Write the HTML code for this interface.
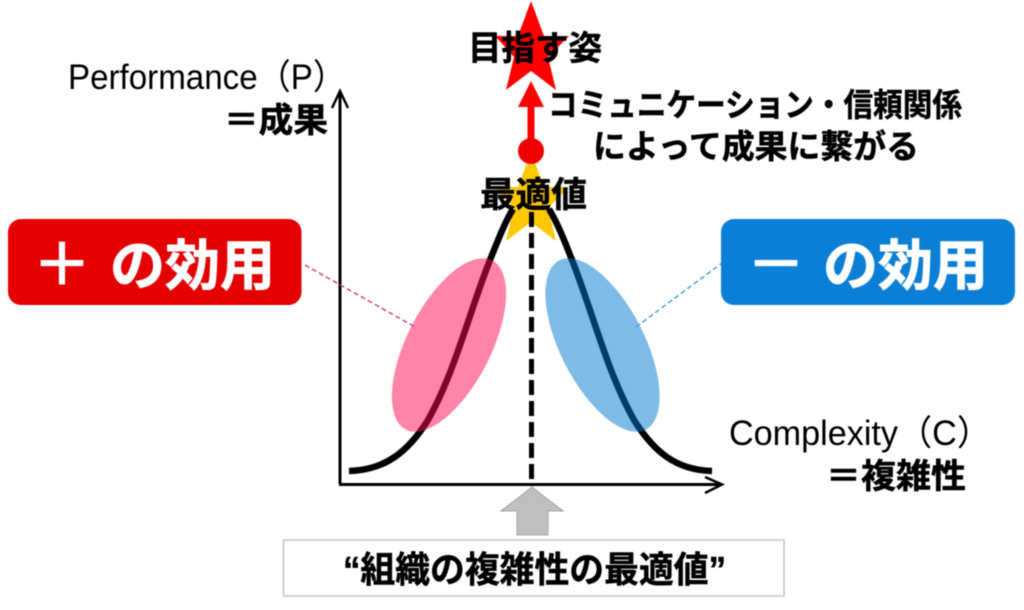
<!DOCTYPE html>
<html lang="ja">
<head>
<meta charset="utf-8">
<title>組織の複雑性の最適値</title>
<style>
html,body{margin:0;padding:0;background:#fff;width:1024px;height:610px;overflow:hidden}
svg{display:block;filter:blur(.55px)}
text{font-family:"Liberation Sans","Noto Sans CJK JP",sans-serif;fill:#000}
.b{font-weight:700;stroke:#000;stroke-width:.5px}
.w{fill:#fff;stroke:#fff;stroke-width:.9px}
.s{font-weight:700;fill:#fff}
</style>
</head>
<body>
<svg width="1024" height="610" viewBox="0 0 1024 610" xmlns="http://www.w3.org/2000/svg">
<rect width="1024" height="610" fill="#fff"/>

<!-- stars -->
<polygon points="531,1 544,36 569,36 548,57 556,90 531,71 506,90 514,57 495,36 518,36" fill="#ff0000"/>
<polygon points="531,152 544,187 569,187 548,208 556,241 531,222 506,241 514,208 495,187 518,187" fill="#ffc800"/>

<!-- red arrow and dot -->
<rect x="527.500" y="104" width="7" height="40" fill="#ff0000"/>
<polygon points="531,81 544,107 518,107" fill="#ff0000"/>
<circle cx="531" cy="151" r="13" fill="#f00000"/>

<!-- axes -->
<path d="M340 484V93" stroke="#000" stroke-width="3" fill="none"/>
<path d="M332 108L340 91L348 108" stroke="#000" stroke-width="2.500" fill="none"/>
<path d="M339 484.500H721" stroke="#000" stroke-width="3" fill="none"/>
<path d="M705 477L722 484.500L705 493" stroke="#000" stroke-width="2.500" fill="none"/>

<!-- bell curve -->
<path d="M349 471C385 470 408 452 428 420C455 372 470 310 490 260C498 240 505 222 513 209" stroke="#000" stroke-width="6.500" fill="none"/>
<path d="M712 471C676 470 654 452 634 420C607 372 592 310 572 260C565 242 558 224 549 209" stroke="#000" stroke-width="6.500" fill="none"/>

<!-- dashed centre line -->
<path d="M531.500 212V484" stroke="#000" stroke-width="5" stroke-dasharray="15 6" fill="none"/>

<!-- ellipses -->
<ellipse cx="449" cy="345" rx="42" ry="95" transform="rotate(27 449 345)" fill="#ff0a54" fill-opacity=".5"/>
<ellipse cx="602.500" cy="345" rx="42" ry="95" transform="rotate(-27 602.500 345)" fill="#0078d0" fill-opacity=".5"/>

<!-- leader lines -->
<path d="M305 265L415 327" stroke="#d8447c" stroke-width="1.500" stroke-dasharray="5 3" fill="none"/>
<path d="M636 327L722 263" stroke="#4a9fdc" stroke-width="1.500" stroke-dasharray="5 3" fill="none"/>

<!-- effect boxes -->
<rect x="8" y="219" width="293.500" height="86" rx="13" fill="#e40000"/>
<rect x="721" y="219" width="294" height="86" rx="13" fill="#0b7fd6"/>
<text class="s" x="62" y="286" font-size="60" text-anchor="middle">＋</text>
<text class="b w" x="110" y="285" font-size="55" textLength="165" lengthAdjust="spacingAndGlyphs">の効用</text>
<text class="s" x="776" y="286" font-size="60" text-anchor="middle">－</text>
<text class="b w" x="823" y="285" font-size="55" textLength="165" lengthAdjust="spacingAndGlyphs">の効用</text>

<!-- labels -->
<text x="68" y="89" font-size="35" textLength="278" lengthAdjust="spacingAndGlyphs">Performance（P）</text>
<text class="b" x="224" y="132" font-size="34" textLength="104" lengthAdjust="spacingAndGlyphs">＝成果</text>
<text class="b" x="468" y="60" font-size="34" textLength="134" lengthAdjust="spacingAndGlyphs">目指す姿</text>
<text class="b" x="548" y="116" font-size="32" textLength="414" lengthAdjust="spacingAndGlyphs">コミュニケーション・信頼関係</text>
<text class="b" x="593" y="158" font-size="33" textLength="326" lengthAdjust="spacingAndGlyphs">によって成果に繋がる</text>
<text class="b" x="480" y="207" font-size="35" textLength="107" lengthAdjust="spacingAndGlyphs">最適値</text>
<text x="729" y="445" font-size="35" textLength="262" lengthAdjust="spacingAndGlyphs">Complexity（C）</text>
<text class="b" x="826" y="488" font-size="34" textLength="140" lengthAdjust="spacingAndGlyphs">＝複雑性</text>

<!-- grey arrow and bottom box -->
<polygon points="532,487 563,511 548,511 548,535 517,535 517,511 501,511" fill="#bfbfbf" stroke="#a6a6a6" stroke-width="1"/>
<rect x="283.500" y="540" width="500.500" height="56" fill="#fff" stroke="#c4c4c4" stroke-width="1.500"/>
<text class="b" x="343" y="582" font-size="36" textLength="383" lengthAdjust="spacingAndGlyphs">“組織の複雑性の最適値”</text>
</svg>
</body>
</html>
